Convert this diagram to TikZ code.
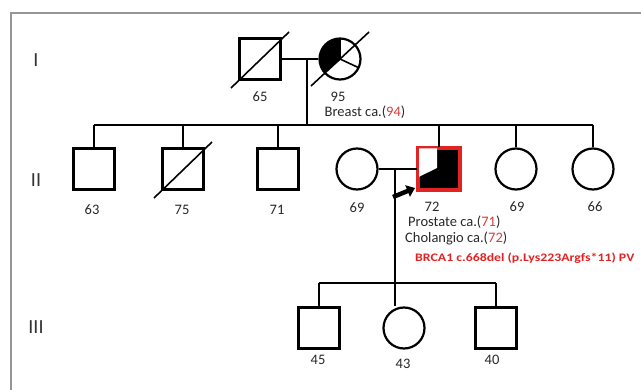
\documentclass[tikz,border=0pt]{standalone}
\usepackage{fontspec}
\setmainfont{Carlito}
\usepackage{graphicx}
\usetikzlibrary{arrows.meta}
\definecolor{pedred}{RGB}{225,35,35}
\definecolor{agered}{RGB}{215,60,60}
\definecolor{txt}{RGB}{40,40,40}
\definecolor{framegray}{RGB}{150,150,150}
\begin{document}
\begin{tikzpicture}[x=1pt,y=-1pt,
  male/.style={draw, line width=2.2pt, minimum size=41pt, inner sep=0pt},
  female/.style={draw, circle, line width=2.2pt, minimum size=41pt, inner sep=0pt},
  rel/.style={line width=1.6pt},
  dead/.style={line width=1.6pt},
  age/.style={font=\fontsize{14.5}{17}\selectfont, text=txt, inner sep=0pt},
  gen/.style={font=\fontsize{20}{22}\selectfont, text=black!80, inner sep=0pt}]
\useasboundingbox (0,0) rectangle (641,390);
\draw[framegray, line width=1.5pt] (11,390) -- (11,13) -- (641,13);

% generation labels
\node[gen] (gI) at (36,60) {I};
\node[gen] (gII) at (36,180) {II};
\node[gen] (gIII) at (36,327) {III};

% generation I
\node[male] (f1) at (260,59) {};
\node[female] (m1) at (340,59) {};
\fill (m1.center) -- ++(-90:20.5) arc[start angle=-90, end angle=-220, radius=20.5] -- cycle;
\draw[rel] (m1.center) -- ++(-90:20.5);
\draw[rel] (m1.center) -- ++(-220:20.5);
\draw[rel] (m1.center) -- ++(25:20.5);
\draw[dead] ([shift={(-29,29)}]f1.center) -- ([shift={(29,-27)}]f1.center);
\draw[dead] ([shift={(-29,27)}]m1.center) -- ([shift={(29,-27)}]m1.center);
\draw[rel] (f1.east) -- (m1.west);
\coordinate (d1) at (307,59);
\coordinate (s2) at (307,125);
\draw[rel] (d1) -- (s2);
\coordinate (s2L) at (94,125);
\coordinate (s2R) at (593,125);
\draw[rel] (s2L) -- (s2R);
\node[age] (l65) at (260,97) {65};
\node[age] (l95) at (338,97) {95};
\node[age] (t0) at (365,112) {Breast ca.(\textcolor{agered}{94})};

% generation II
\node[male] (a63) at (94,169) {};
\node[male] (a75) at (183,169) {};
\draw[dead] ([shift={(-29,29)}]a75.center) -- ([shift={(29,-27)}]a75.center);
\node[male] (a71) at (278,169) {};
\node[female] (w69) at (357,169) {};
\node[male, draw=pedred, fill=black] (p72) at (439,169) {};
\fill[white] (418.5,148.5) -- (437,148.5) -- (437,168) -- (418.5,177) -- cycle;
\draw[pedred, line width=2.2pt] (p72.north west) rectangle (p72.south east);
\node[female] (b69) at (516,169) {};
\node[female] (b66) at (593,169) {};
\foreach \n in {a63,a75,a71,p72,b69,b66}
  \draw[rel] (\n.north) -- (\n.north |- s2L);
\node[age] (l63) at (92,210) {63};
\node[age] (l75) at (182,210) {75};
\node[age] (l71) at (277,210) {71};
\node[age] (l69a) at (357,208) {69};
\node[age] (l72) at (432,207) {72};
\node[age] (l69b) at (517,207) {69};
\node[age] (l66) at (595,207) {66};
\draw[rel] (w69.east) -- (p72.west);
\coordinate (arrS) at (393,197);
\coordinate (arrE) at (415,188);
\draw[-{Triangle[length=8pt,width=12pt]}, line width=4.5pt] (arrS) -- (arrE);
\node[age, anchor=west] (t1) at (408,222) {Prostate ca.(\textcolor{agered}{71})};
\node[age, anchor=west] (t2) at (405,238) {Cholangio ca.(\textcolor{agered}{72})};
\node[anchor=west, inner sep=0pt, text=pedred] (t3) at (415,258)
  {\scalebox{1.2}[1]{\bfseries\fontsize{11.5}{13}\selectfont BRCA1 c.668del (p.Lys223Argfs*11) PV}};

% generation III
\node[male] (c45) at (319,328) {};
\node[female] (c43) at (404,328) {};
\node[male] (c40) at (496,328) {};
\coordinate (d2) at (395,169);
\coordinate (s3) at (395,283);
\coordinate (s3L) at (319,283);
\coordinate (s3R) at (496,283);
\draw[rel] (d2) -- (s3);
\draw[rel] (s3) -- (s3 |- c43.north);
\draw[rel] (s3L) -- (s3R);
\draw[rel] (c45.north) -- (s3L);
\draw[rel] (c40.north) -- (s3R);
\node[age] (l45) at (318,360) {45};
\node[age] (l43) at (403,364) {43};
\node[age] (l40) at (492,360) {40};
\end{tikzpicture}
\end{document}
